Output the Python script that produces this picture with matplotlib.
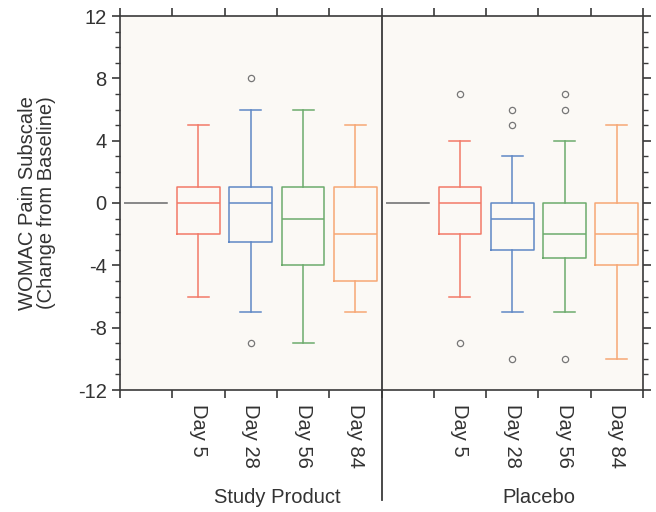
"""
WOMAC pain subscale box plots, study product vs placebo
"""

import matplotlib.pyplot as plt
import matplotlib.ticker as mticker

#---------------------------------------------------------------------------------------------------
# Input Parameters
#---------------------------------------------------------------------------------------------------

groups = ['Study Product', 'Placebo']
days = ['Day 5', 'Day 28', 'Day 56', 'Day 84']

# Box statistics per group, in the order of days
whislo = {'Study Product': [-6, -7, -9, -7], 'Placebo': [-6, -7, -7, -10]}
q1 = {'Study Product': [-2, -2.5, -4, -5], 'Placebo': [-2, -3, -3.5, -4]}
med = {'Study Product': [0, 0, -1, -2], 'Placebo': [0, -1, -2, -2]}
q3 = {'Study Product': [1, 1, 1, 1], 'Placebo': [1, 0, 0, 0]}
whishi = {'Study Product': [5, 6, 6, 5], 'Placebo': [4, 3, 4, 5]}
fliers = {'Study Product': [[], [8, -9], [], []],
          'Placebo': [[7, -9], [6, 5, -10], [7, 6, -10], []]}

# Baseline change is zero by definition
baseline = 0

day_colors = ['#f27a68', '#5f88c6', '#6cab6c', '#f7a774']
base_color = '#8a8a8a'

#---------------------------------------------------------------------------------------------------
# Main Program
#---------------------------------------------------------------------------------------------------

plt.rcParams['font.family'] = ['Liberation Sans', 'DejaVu Sans']
plt.rcParams['axes.unicode_minus'] = False
fontsize = 14.5

fig = plt.figure(figsize=(6.56, 5.12), dpi=100)
ax = fig.add_axes([120/656, 1 - 390/512, 523/656, 374/512])
ax.set_facecolor('#fbf9f5')

pos = 0
label_pos = []
for g in groups:
    # Baseline (flat line)
    stat = {'med': baseline, 'q1': baseline, 'q3': baseline, 'whislo': baseline,
            'whishi': baseline, 'fliers': []}
    ax.bxp([stat], positions=[pos], widths=0.8, showcaps=False,
           boxprops={'color': base_color, 'lw': 1.1},
           medianprops={'color': base_color, 'lw': 1.1},
           whiskerprops={'color': base_color})
    pos += 1
    for i, d in enumerate(days):
        c = day_colors[i]
        stat = {'med': med[g][i], 'q1': q1[g][i], 'q3': q3[g][i],
                'whislo': whislo[g][i], 'whishi': whishi[g][i], 'fliers': fliers[g][i]}
        ax.bxp([stat], positions=[pos], widths=0.82, capwidths=0.4,
               boxprops={'color': c, 'lw': 1.1},
               medianprops={'color': c, 'lw': 1.1},
               whiskerprops={'color': c, 'lw': 1.1},
               capprops={'color': c, 'lw': 1.1},
               flierprops={'marker': 'o', 'markersize': 4.5, 'markerfacecolor': 'none',
                           'markeredgecolor': '#777777', 'markeredgewidth': 0.9})
        label_pos.append(pos)
        pos += 1

ax.set_xlim(-0.5, pos - 0.5)
ax.set_ylim(-12, 12)

# Separator between groups
ax.axvline(4.5, ymin=-0.294, ymax=1, color='#3a3a3a', lw=1.3, clip_on=False)

# X ticks: marks at slot edges, labels at box centres
ax.set_xticks([x + 0.5 for x in range(-1, pos)])
ax.set_xticklabels([])
ax.set_xticks(label_pos, minor=True)
ax.set_xticklabels(days * 2, minor=True, rotation=270, fontsize=fontsize, color='#333333')
ax.tick_params(axis='x', which='major', direction='out', length=6, width=1.2,
               top=True, bottom=True, color='#3a3a3a')
ax.tick_params(axis='x', which='minor', length=0, pad=10)

# Y ticks
ax.yaxis.set_major_locator(mticker.MultipleLocator(4))
ax.yaxis.set_minor_locator(mticker.MultipleLocator(1))
ax.tick_params(axis='y', which='major', direction='out', length=6, width=1.2,
               left=True, right=True, labelsize=fontsize, labelcolor='#333333', color='#3a3a3a')
ax.tick_params(axis='y', which='minor', direction='out', length=3.5, width=1,
               left=True, right=True, color='#3a3a3a')

for s in ax.spines.values():
    s.set_color('#3a3a3a')
    s.set_linewidth(1.2)

ax.set_ylabel('WOMAC Pain Subscale\n(Change from Baseline)', fontsize=fontsize,
              color='#333333', labelpad=16, linespacing=0.95)

# Group labels
for k, g in enumerate(groups):
    ax.text(2.5 + 5*k, -0.288, g, transform=ax.get_xaxis_transform(), ha='center',
            va='center', fontsize=fontsize, color='#333333')

plt.savefig('out.png', dpi=100)
plt.close()
